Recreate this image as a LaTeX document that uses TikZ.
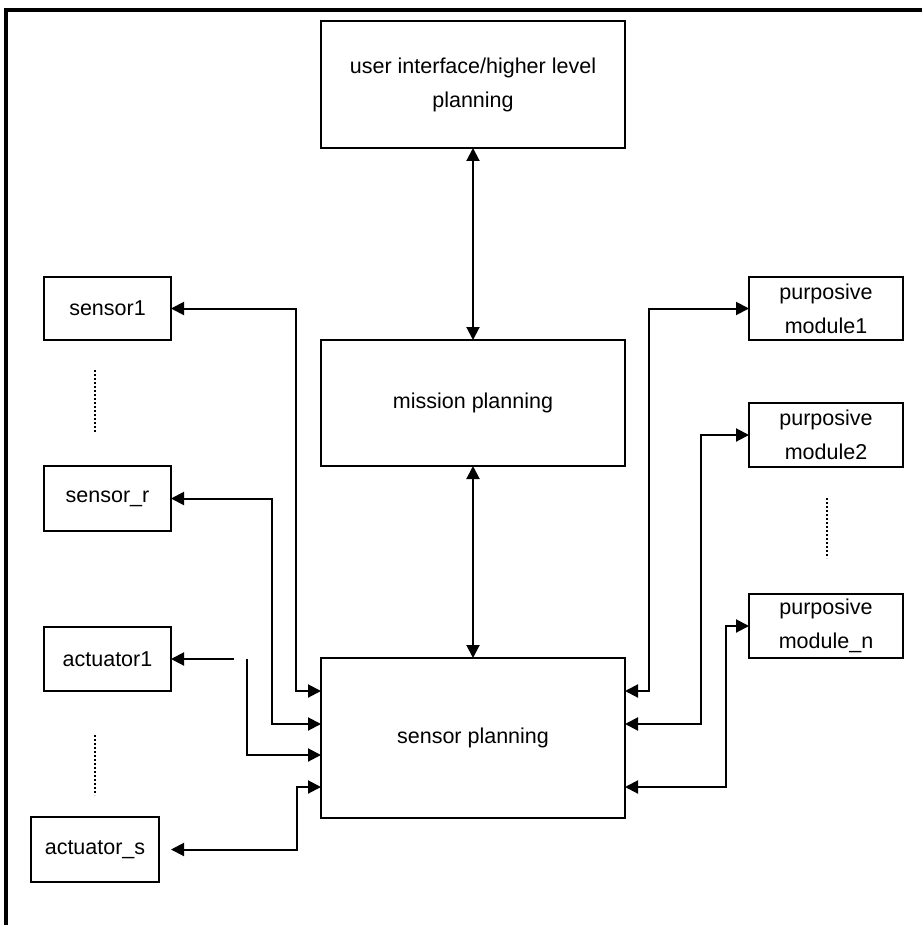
\documentclass[tikz,border=0pt]{standalone}
\usepackage{fontspec}
\setmainfont{Liberation Sans}
\usetikzlibrary{arrows.meta}
\begin{document}
\begin{tikzpicture}[x=1pt,y=-1pt,
  box/.style={draw, line width=2pt, inner sep=0pt, outer sep=0pt, align=center,
    font=\fontsize{21.5}{34}\selectfont},
  conn/.style={line width=2pt, {Triangle[length=13pt,width=13pt]}-{Triangle[length=13pt,width=13pt]}},
  oneway/.style={line width=2pt, -{Triangle[length=13pt,width=13pt]}},
  dotline/.style={line width=2pt, dash pattern=on 2pt off 2pt},
  frame/.style={line width=3.2pt}]
\useasboundingbox (0,0) rectangle (922,925);
\fill[white] (0,0) rectangle (922,925);
% frame
\draw[frame] (922,10) -- (6,10) -- (6,925);
% boxes
\node[box, minimum width=304pt, minimum height=127pt] (ui) at (473,84.5)
  {\fontsize{21.5}{38}\selectfont user interface/higher level\\planning};
\node[box, minimum width=304pt, minimum height=126pt] (mp) at (473,403) {mission planning};
\node[box, minimum width=304pt, minimum height=160pt] (sp) at (473,738) {sensor planning};
\node[box, minimum width=127pt, minimum height=63pt] (s1) at (107.5,308.5) {sensor1};
\node[box, minimum width=127pt, minimum height=65pt] (sr) at (107.5,498.5) {sensor\_r};
\node[box, minimum width=127pt, minimum height=64pt] (a1) at (107.5,659) {actuator1};
\node[box, minimum width=128pt, minimum height=65pt] (as) at (95,849.5) {actuator\_s};
\node[box, minimum width=154pt, minimum height=63pt] (pm1) at (826,308.5) {purposive\\module1};
\node[box, minimum width=154pt, minimum height=64pt] (pm2) at (826,435) {purposive\\module2};
\node[box, minimum width=154pt, minimum height=64pt] (pmn) at (826,626) {purposive\\module\_n};
% dotted ellipses
\draw[dotline] (95,370) -- (95,432);
\draw[dotline] (95,735) -- (95,795);
\draw[dotline] (827,498) -- (827,558);
% vertical connectors
\draw[conn] (ui.south) -- (mp.north);
\draw[conn] (mp.south) -- (sp.north);
% left connectors
\draw[conn] (s1.east) -| (296,691) -- (sp.west |- 0,691);
\draw[conn] (sr.east) -| (272,724) -- (sp.west |- 0,724);
\coordinate (a1src) at (234,659);
\coordinate (a1brk) at (247,659);
\draw[oneway] (a1src) -- (a1.east);
\draw[oneway] (a1brk) |- (sp.west |- 0,755);
\coordinate (astip) at (171,849.5);
\draw[conn] (astip) -| (297,787) -- (sp.west |- 0,787);
% right connectors
\draw[conn] (pm1.west) -| (649,691) -- (sp.east |- 0,691);
\draw[conn] (pm2.west) -| (701,724) -- (sp.east |- 0,724);
\draw[conn] (pmn.west) -| (726,787) -- (sp.east |- 0,787);
\end{tikzpicture}
\end{document}
